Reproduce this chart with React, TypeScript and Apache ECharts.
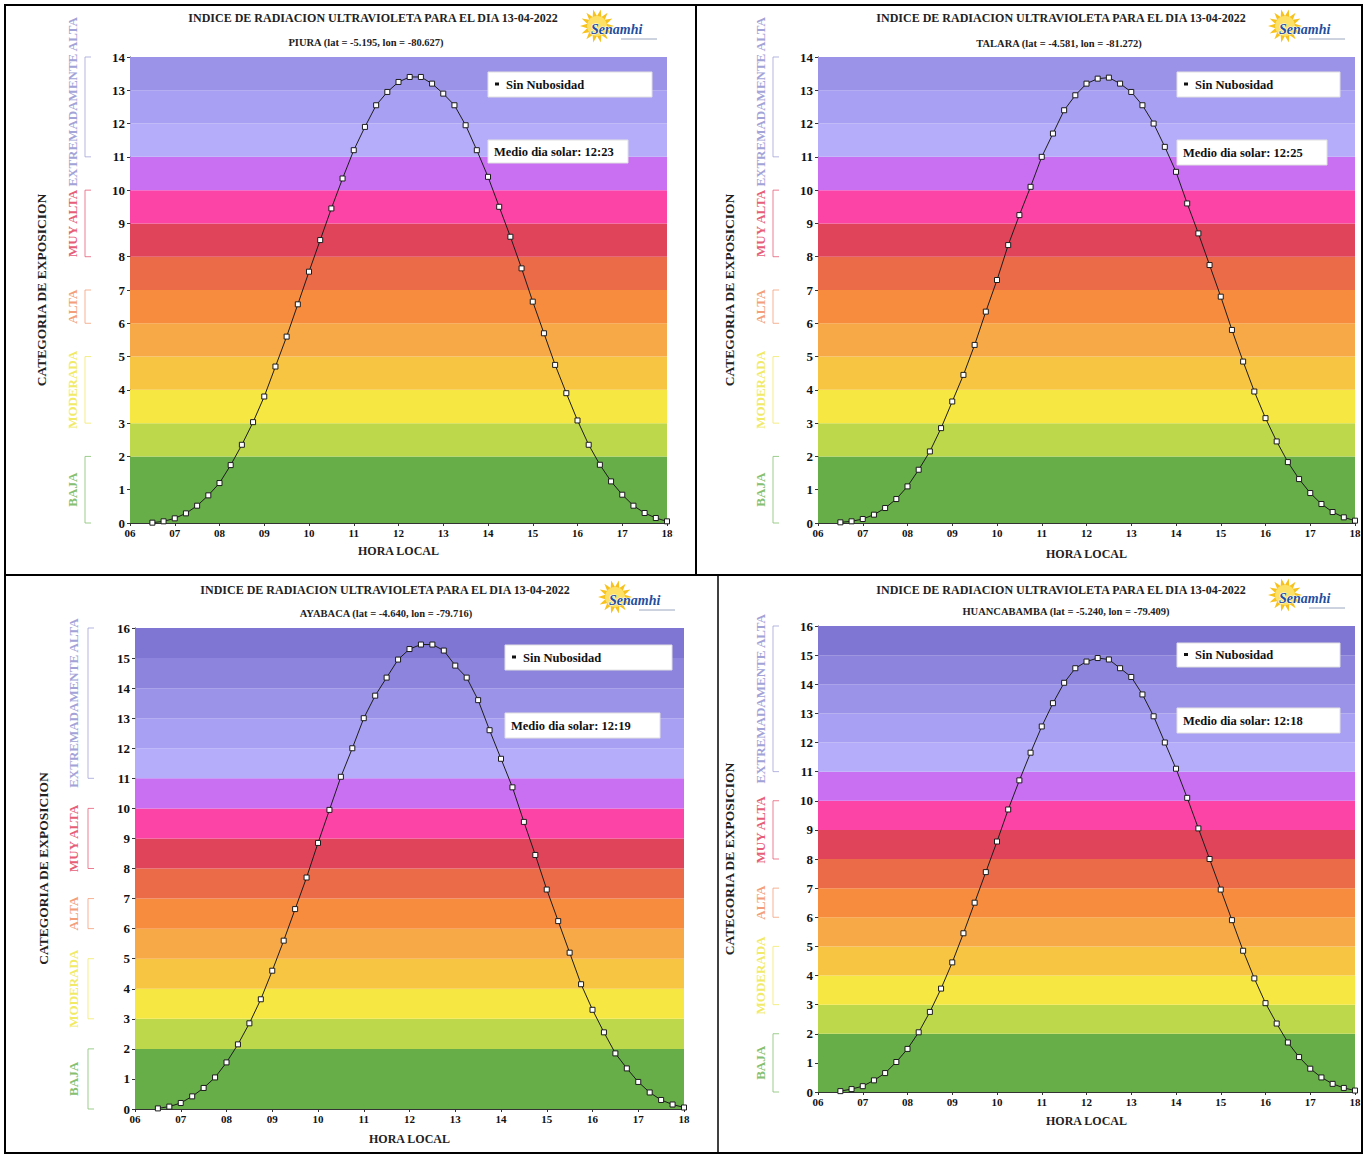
import React, { useEffect, useRef } from "react";
import * as echarts from "echarts";

// ---------- DATA ----------
const TIMES = [
  6.5, 6.75, 7, 7.25, 7.5, 7.75, 8, 8.25, 8.5, 8.75, 9, 9.25, 9.5, 9.75, 10, 10.25,
  10.5, 10.75, 11, 11.25, 11.5, 11.75, 12, 12.25, 12.5, 12.75, 13, 13.25, 13.5, 13.75,
  14, 14.25, 14.5, 14.75, 15, 15.25, 15.5, 15.75, 16, 16.25, 16.5, 16.75, 17, 17.25,
  17.5, 17.75, 18,
];

const PIURA_UV = [
  0.01, 0.05, 0.14, 0.29, 0.52, 0.83, 1.2, 1.74, 2.35, 3.03, 3.8, 4.7, 5.6, 6.57, 7.55,
  8.5, 9.45, 10.35, 11.2, 11.9, 12.55, 12.95, 13.25, 13.4, 13.4, 13.2, 12.9, 12.55,
  11.95, 11.2, 10.4, 9.5, 8.6, 7.65, 6.65, 5.7, 4.75, 3.9, 3.08, 2.35, 1.75, 1.25, 0.85,
  0.52, 0.3, 0.15, 0.05,
];
const TALARA_UV = [
  0.02, 0.05, 0.12, 0.25, 0.45, 0.72, 1.1, 1.6, 2.15, 2.85, 3.65, 4.45, 5.35, 6.35, 7.3,
  8.35, 9.25, 10.1, 11.0, 11.7, 12.4, 12.85, 13.2, 13.35, 13.38, 13.2, 12.95, 12.55,
  12.0, 11.3, 10.55, 9.6, 8.7, 7.75, 6.8, 5.8, 4.85, 3.95, 3.15, 2.45, 1.83, 1.32, 0.9,
  0.57, 0.33, 0.17, 0.07,
];
const AYABACA_UV = [
  0.02, 0.08, 0.2, 0.42, 0.7, 1.05, 1.55, 2.15, 2.85, 3.65, 4.6, 5.6, 6.65, 7.7, 8.85,
  9.95, 11.05, 12.0, 13.0, 13.75, 14.35, 14.95, 15.3, 15.45, 15.45, 15.25, 14.75, 14.35,
  13.6, 12.6, 11.65, 10.7, 9.55, 8.45, 7.3, 6.25, 5.2, 4.15, 3.3, 2.55, 1.85, 1.35, 0.9,
  0.55, 0.3, 0.15, 0.05,
];
const HUANCABAMBA_UV = [
  0.03, 0.1, 0.2, 0.4, 0.65, 1.03, 1.48, 2.05, 2.75, 3.55, 4.45, 5.45, 6.5, 7.55, 8.6,
  9.7, 10.7, 11.65, 12.55, 13.35, 14.05, 14.55, 14.78, 14.9, 14.85, 14.55, 14.25, 13.65,
  12.9, 12.0, 11.1, 10.1, 9.05, 8.0, 6.95, 5.9, 4.85, 3.9, 3.05, 2.35, 1.7, 1.2, 0.8,
  0.5, 0.28, 0.14, 0.05,
];

const STATIONS = ["PIURA", "TALARA", "AYABACA", "HUANCABAMBA"];
const LATS = ["-5.195", "-4.581", "-4.640", "-5.240"];
const LONS = ["-80.627", "-81.272", "-79.716", "-79.409"];
const NOONS = ["12:23", "12:25", "12:19", "12:18"];
const Y_MAX = [14, 14, 16, 16];
const SERIES_VALUES = [PIURA_UV, TALARA_UV, AYABACA_UV, HUANCABAMBA_UV];
const DATE_LABEL = "13-04-2022";
const SERIES_NAME = "Sin Nubosidad";

const BAND_LO = [0, 2, 3, 4, 5, 6, 7, 8, 9, 10, 11, 12, 13, 14, 15];
const BAND_COLORS = [
  "#67ad48", "#bdd84a", "#f6e742", "#f7c542", "#f8a947", "#f78c3e", "#eb6a47",
  "#e0445a", "#fb44a6", "#c96ff2", "#b5adfa", "#a8a0f2", "#9b93e8", "#8d85dd", "#7f75d2",
];

const CATEGORIES = ["BAJA", "MODERADA", "ALTA", "MUY ALTA", "EXTREMADAMENTE ALTA"];
const CAT_LO = [0, 3, 6, 8, 11];
const CAT_HI = [2, 5, 7, 10, -1]; // -1 -> axis max
const CAT_COLORS = ["#86c070", "#f1ea66", "#f3a07a", "#e65e78", "#a3a3d8"];

// ---------- LAYOUT ----------
const LAYOUT = [
  { grid: [130, 57, 537, 466], title: [373, 18], sub: [366, 42], logo: [597, 26], legend: [488, 72, 164, 25], noon: [488, 140, 140, 23], catOff: -58, brOff: -45, yNameGap: 82, xNameGap: 22, extShift: -5 },
  { grid: [818, 57, 537, 466], title: [1061, 18], sub: [1059, 43], logo: [1285, 26], legend: [1177, 72, 163, 25], noon: [1177, 140, 150, 25], catOff: -58, brOff: -45, yNameGap: 82, xNameGap: 25, extShift: -5 },
  { grid: [135, 628, 549, 481], title: [385, 590], sub: [386, 613], logo: [615, 597], legend: [505, 645, 167, 25], noon: [505, 713, 155, 25], catOff: -62, brOff: -47, yNameGap: 85, xNameGap: 24, extShift: 0 },
  { grid: [818, 626, 537, 466], title: [1061, 590], sub: [1066, 611], logo: [1285, 595], legend: [1177, 643, 163, 24], noon: [1177, 708, 163, 25], catOff: -58, brOff: -45, yNameGap: 82, xNameGap: 23, extShift: 0 },
];

const FONT = '"Liberation Serif", "Times New Roman", serif';

function logo(cx: number, cy: number) {
  const pts: number[][] = [];
  const n = 14;
  for (let i = 0; i < n * 2; i++) {
    const r = i % 2 === 0 ? 17 : 10;
    const a = (Math.PI * i) / n;
    pts.push([Math.cos(a) * r, Math.sin(a) * r]);
  }
  return {
    type: "group",
    x: cx,
    y: cy,
    children: [
      { type: "polygon", shape: { points: pts }, style: { fill: "#f7c21e" } },
      { type: "circle", shape: { cx: 0, cy: 0, r: 10 }, style: { fill: "#fde066" } },
      {
        type: "text",
        x: -6,
        y: 3,
        style: {
          text: "Senamhi",
          font: `italic bold 14px ${FONT}`,
          fill: "#1f4f9f",
          stroke: "#ffffff",
          lineWidth: 1,
          verticalAlign: "middle",
        },
      },
      { type: "line", shape: { x1: 24, y1: 13, x2: 60, y2: 13 }, style: { stroke: "#9aa7c0", lineWidth: 1 } },
    ],
  };
}

function buildOption() {
  const grid: any[] = [];
  const xAxis: any[] = [];
  const yAxis: any[] = [];
  const series: any[] = [];
  const graphic: any[] = [];

  for (let i = 0; i < 4; i++) {
    const L = LAYOUT[i];
    const yMax = Y_MAX[i];
    grid.push({ left: L.grid[0], top: L.grid[1], width: L.grid[2], height: L.grid[3] });
    xAxis.push({
      type: "value",
      gridIndex: i,
      min: 6,
      max: 18,
      interval: 1,
      name: "HORA LOCAL",
      nameLocation: "middle",
      nameGap: L.xNameGap,
      nameTextStyle: { fontFamily: FONT, fontWeight: "bold", fontSize: 12, color: "#222" },
      axisLine: { show: true, lineStyle: { color: "#333", width: 1 } },
      axisTick: { show: true, length: 3, lineStyle: { color: "#333" } },
      axisLabel: {
        fontFamily: FONT,
        fontWeight: "bold",
        fontSize: 11,
        color: "#111",
        margin: 4,
        formatter: (v: number) => String(v).padStart(2, "0"),
      },
      splitLine: { show: false },
    });
    yAxis.push({
      type: "value",
      gridIndex: i,
      min: 0,
      max: yMax,
      interval: 1,
      name: "CATEGORIA DE EXPOSICION",
      nameLocation: "middle",
      nameGap: L.yNameGap,
      nameRotate: 90,
      nameTextStyle: { fontFamily: FONT, fontWeight: "bold", fontSize: 13.5, color: "#222" },
      axisLine: { show: true, lineStyle: { color: "#333", width: 1 } },
      axisTick: { show: true, length: 3, lineStyle: { color: "#333" } },
      axisLabel: { fontFamily: FONT, fontWeight: "bold", fontSize: 13, color: "#111", margin: 5 },
      splitLine: { show: false },
    });

    const bands: any[] = [];
    for (let b = 0; b < BAND_LO.length; b++) {
      if (BAND_LO[b] >= yMax) continue;
      const hi = b + 1 < BAND_LO.length ? BAND_LO[b + 1] : yMax;
      bands.push([{ yAxis: BAND_LO[b], itemStyle: { color: BAND_COLORS[b], opacity: 1 } }, { yAxis: Math.min(hi, yMax) }]);
    }

    series.push({
      type: "line",
      name: SERIES_NAME,
      xAxisIndex: i,
      yAxisIndex: i,
      data: TIMES.map((t, k) => [t, SERIES_VALUES[i][k]]),
      symbol: "rect",
      symbolSize: 5,
      showAllSymbol: true,
      lineStyle: { color: "#1c1c1c", width: 1 },
      itemStyle: { color: "#ffffff", borderColor: "#1c1c1c", borderWidth: 1 },
      z: 5,
      markArea: { silent: true, data: bands },
    });

    const off = L.catOff;
    const br = L.brOff;
    const extShift = L.extShift;
    series.push({
      type: "custom",
      xAxisIndex: i,
      yAxisIndex: i,
      clip: false,
      silent: true,
      data: CATEGORIES.map((_, c) => [6, CAT_LO[c], CAT_HI[c] < 0 ? yMax : CAT_HI[c], c]),
      encode: { x: 0, y: [1, 2] },
      renderItem: (params: any, api: any) => {
        const c = api.value(3);
        const bot = api.coord([api.value(0), api.value(1)]);
        const top = api.coord([api.value(0), api.value(2)]);
        const bx = bot[0] + br;
        const tx = bot[0] + off;
        const shift = c === CATEGORIES.length - 1 ? extShift : 0;
        return {
          type: "group",
          children: [
            {
              type: "polyline",
              shape: { points: [[bx + 6, top[1]], [bx, top[1]], [bx, bot[1]], [bx + 6, bot[1]]] },
              style: { stroke: CAT_COLORS[c], lineWidth: 1, fill: null, opacity: 0.8 },
            },
            {
              type: "text",
              x: tx,
              y: (top[1] + bot[1]) / 2 + shift,
              rotation: Math.PI / 2,
              style: {
                text: CATEGORIES[c],
                fill: CAT_COLORS[c],
                font: `bold 13px ${FONT}`,
                align: "center",
                verticalAlign: "middle",
              },
            },
          ],
        };
      },
    });

    // titles
    graphic.push({
      type: "text",
      x: L.title[0],
      y: L.title[1],
      style: {
        text: `INDICE DE RADIACION ULTRAVIOLETA PARA EL DIA ${DATE_LABEL}`,
        font: `bold 12px ${FONT}`,
        fill: "#222",
        align: "center",
        verticalAlign: "middle",
      },
    });
    graphic.push({
      type: "text",
      x: L.sub[0],
      y: L.sub[1],
      style: {
        text: `${STATIONS[i]} (lat = ${LATS[i]}, lon = ${LONS[i]})`,
        font: `bold 10.5px ${FONT}`,
        fill: "#222",
        align: "center",
        verticalAlign: "middle",
      },
    });
    graphic.push(logo(L.logo[0], L.logo[1]));
    // legend box
    const [lx, ly, lw, lh] = L.legend;
    graphic.push({ type: "rect", shape: { x: lx, y: ly, width: lw, height: lh }, style: { fill: "#ffffff", stroke: "#e0e0e0", lineWidth: 1 }, z: 10 });
    graphic.push({ type: "rect", shape: { x: lx + 7, y: ly + lh / 2 - 2, width: 4, height: 3 }, style: { fill: "#111" }, z: 11 });
    graphic.push({
      type: "text",
      x: lx + 18,
      y: ly + lh / 2,
      z: 11,
      style: { text: SERIES_NAME, font: `bold 12.5px ${FONT}`, fill: "#111", verticalAlign: "middle" },
    });
    const [nx, ny, nw, nh] = L.noon;
    graphic.push({ type: "rect", shape: { x: nx, y: ny, width: nw, height: nh }, style: { fill: "#ffffff", stroke: "#e0e0e0", lineWidth: 1 }, z: 10 });
    graphic.push({
      type: "text",
      x: nx + 6,
      y: ny + nh / 2,
      z: 11,
      style: { text: `Medio dia solar: ${NOONS[i]}`, font: `bold 12.5px ${FONT}`, fill: "#111", verticalAlign: "middle" },
    });
  }

  // table borders
  graphic.push({ type: "rect", shape: { x: 5, y: 5, width: 1357, height: 1148 }, style: { fill: null, stroke: "#000", lineWidth: 2 }, z: 20 });
  graphic.push({ type: "line", shape: { x1: 5, y1: 575, x2: 1362, y2: 575 }, style: { stroke: "#000", lineWidth: 2 }, z: 20 });
  graphic.push({ type: "line", shape: { x1: 696, y1: 5, x2: 696, y2: 575 }, style: { stroke: "#000", lineWidth: 2 }, z: 20 });
  graphic.push({ type: "line", shape: { x1: 718, y1: 575, x2: 718, y2: 1153 }, style: { stroke: "#000", lineWidth: 1.5 }, z: 20 });

  return {
    animation: false,
    backgroundColor: "#ffffff",
    grid,
    xAxis,
    yAxis,
    series,
    graphic,
  };
}

export default function App() {
  const ref = useRef<HTMLDivElement>(null);
  useEffect(() => {
    if (!ref.current) return;
    const chart = echarts.init(ref.current, null, { renderer: "svg" });
    chart.setOption(buildOption() as any);
    return () => chart.dispose();
  }, []);
  return (
    <div
      ref={ref}
      style={{ position: "absolute", left: 0, top: 0, width: 1366, height: 1155, background: "#fff" }}
    />
  );
}
